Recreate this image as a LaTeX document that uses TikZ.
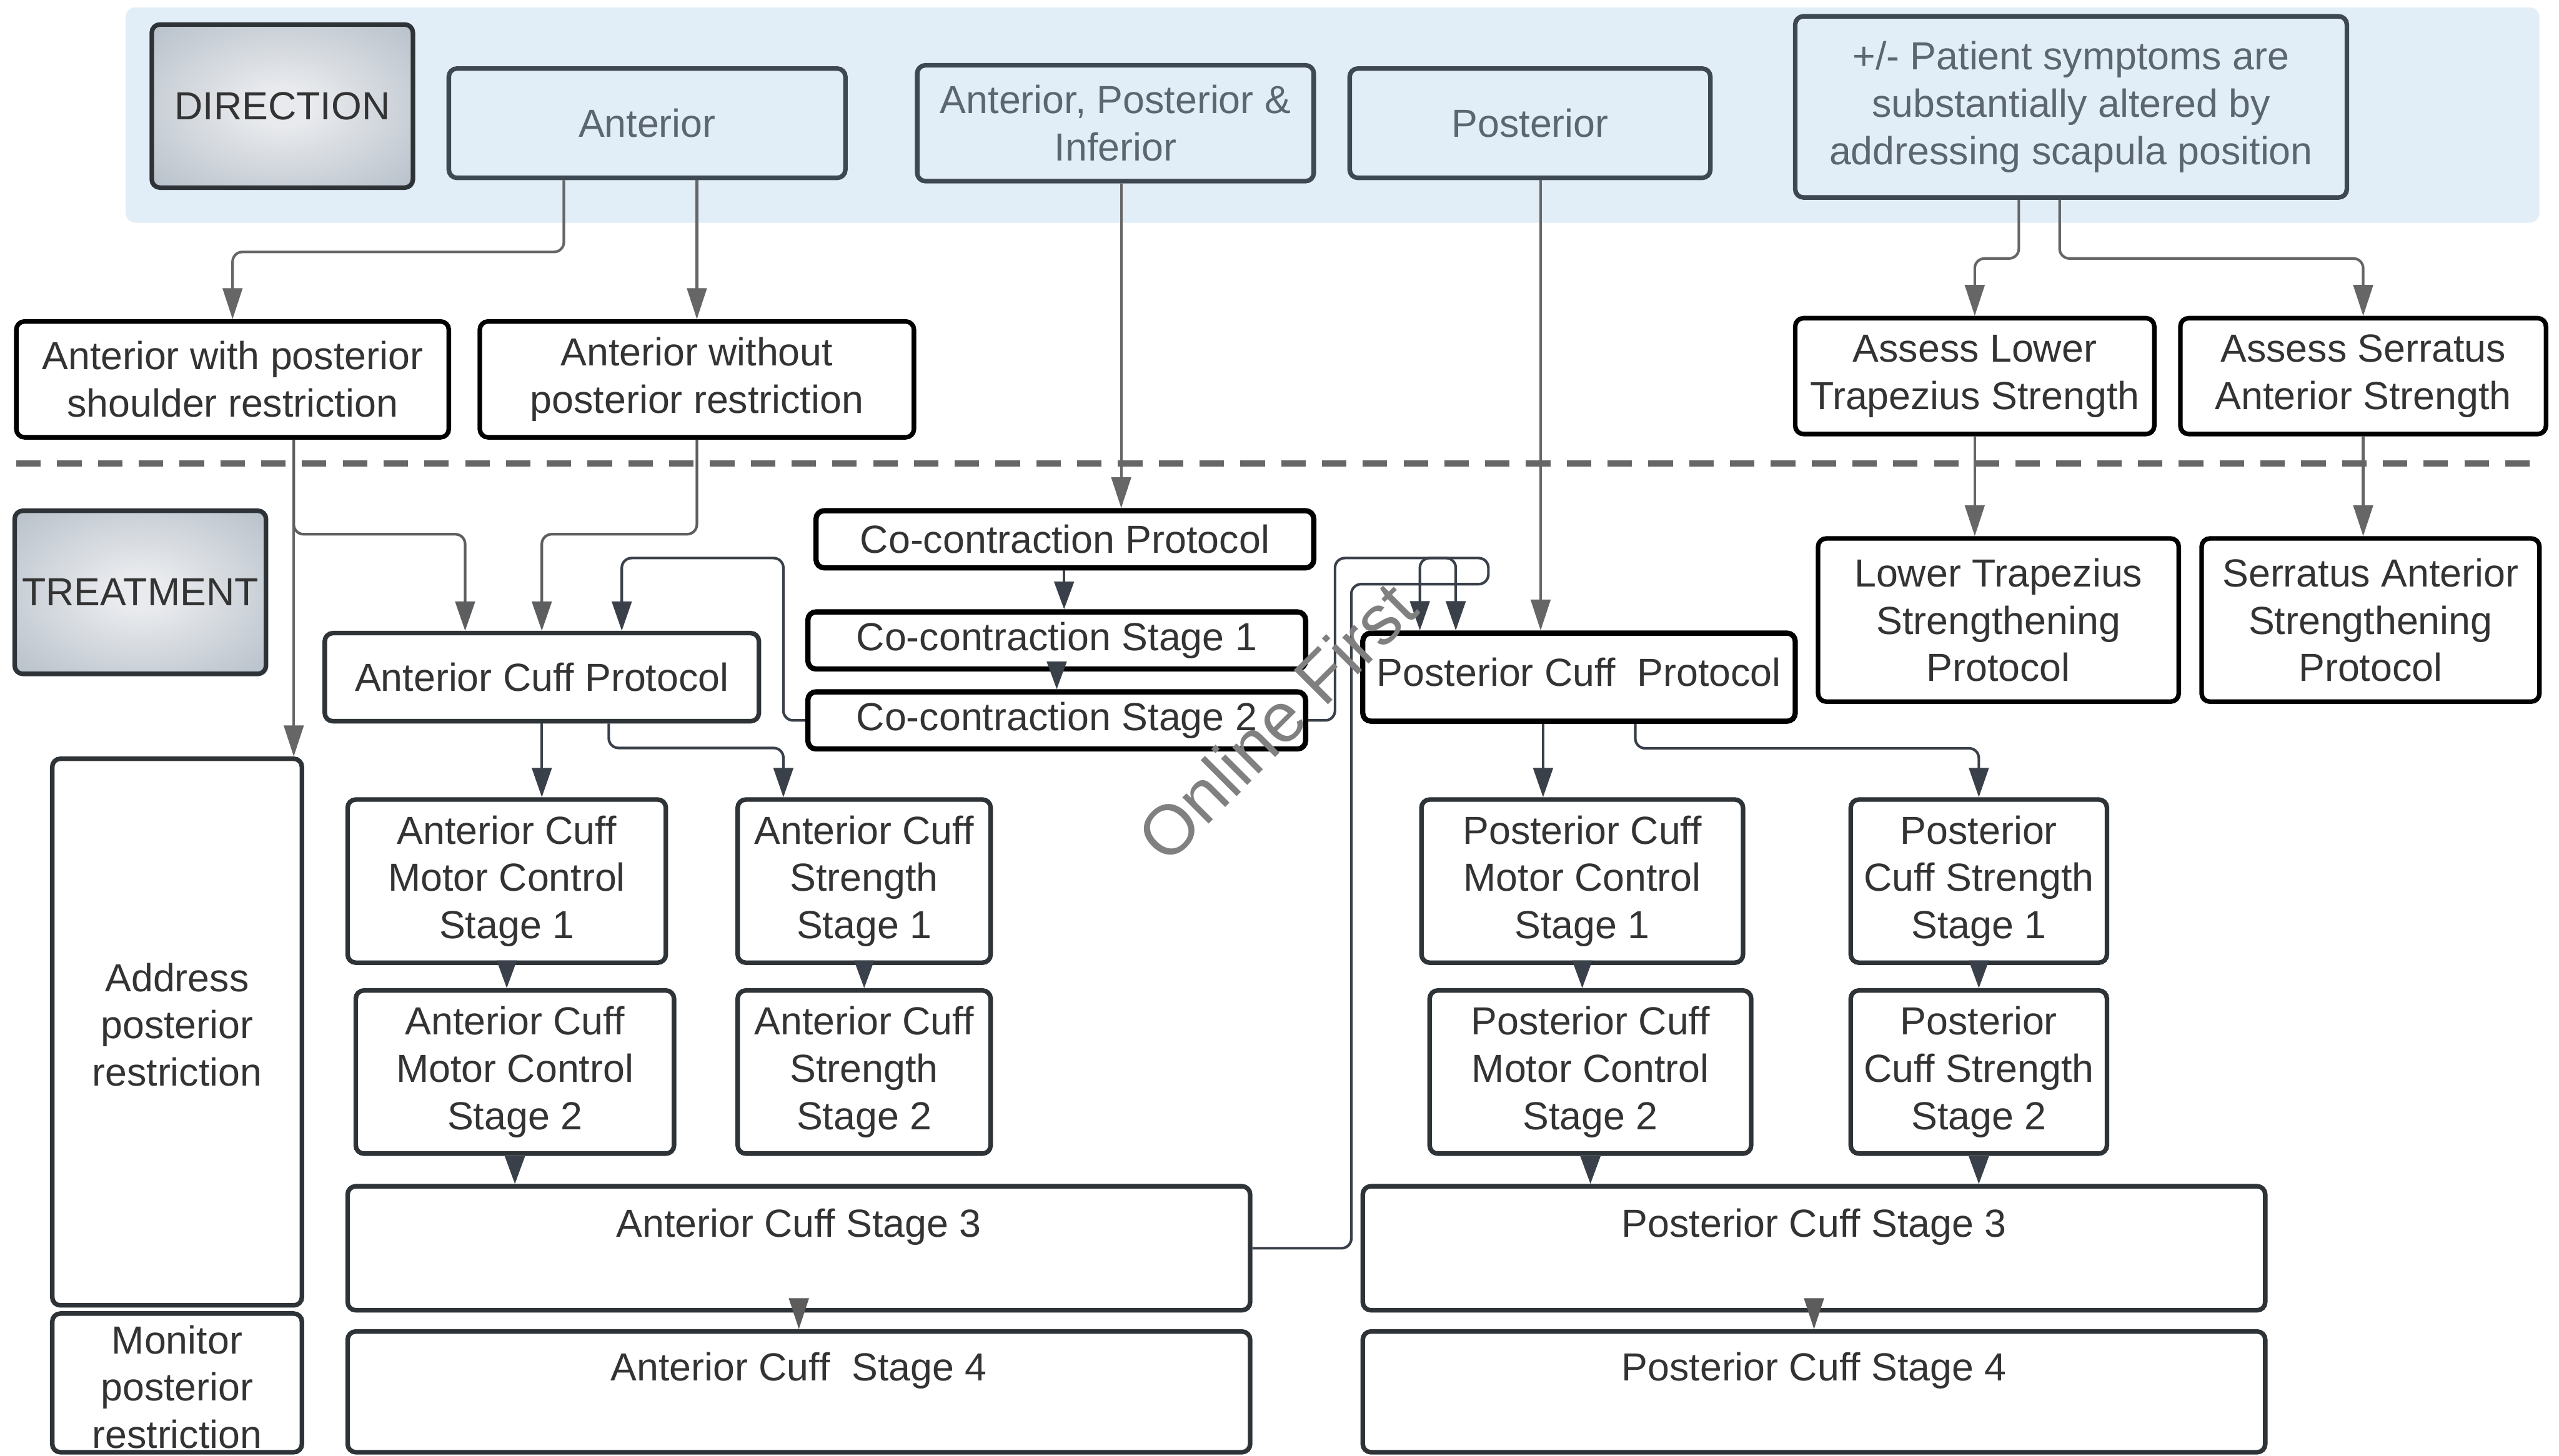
\documentclass[tikz,border=0pt]{standalone}
\usepackage{fontspec}
\setmainfont{Liberation Sans}
\usetikzlibrary{arrows.meta,calc}
\definecolor{bandc}{HTML}{E2EEF7}
\definecolor{tb}{HTML}{3E4852}
\definecolor{tt}{HTML}{5B6670}
\definecolor{dk}{HTML}{2E3338}
\definecolor{txtc}{HTML}{333333}
\definecolor{gl}{HTML}{666666}
\definecolor{dl}{HTML}{3A4049}
\definecolor{gin}{HTML}{E8EAED}
\definecolor{gout}{HTML}{A6B1BD}
\definecolor{wmc}{HTML}{808080}
\pgfdeclareradialshading{softrad}{\pgfpoint{0bp}{0bp}}{color(0bp)=(gin); color(6bp)=(gin); color(46bp)=(gout); color(50bp)=(gout)}
\begin{document}
\begin{tikzpicture}[x=1pt,y=-1pt,
  sz/.style 2 args={minimum width=#1pt,minimum height=#2pt},
  box/.style={draw, rounded corners=5pt, line width=2.8pt, align=center, inner sep=0pt,
    font=\fontsize{24}{29}\selectfont, text=txtc, fill=white},
  topbox/.style={box, draw=tb, fill=bandc, text=tt},
  blk/.style={box, draw=black},
  lbox/.style={box, draw=dk},
  gradbox/.style={box, draw=dk, shading=softrad},
  lbl/.style={inner sep=0pt, align=center, font=\fontsize{24}{29}\selectfont, text=txtc},
  garr/.style={draw=gl, line width=1.6pt, rounded corners=6pt, -{Triangle[length=19pt,width=12pt]}},
  darr/.style={draw=dl, line width=1.6pt, rounded corners=6pt, -{Triangle[length=18pt,width=12pt]}},
  sarr/.style={draw=dl, line width=1.6pt, -{Triangle[length=17pt,width=12pt]}},
  sgarr/.style={draw=gl!90!black, line width=1.6pt, -{Triangle[length=19pt,width=12pt]}}
]
\useasboundingbox (0,0) rectangle (1568,892);
\fill[white] (0,0) rectangle (1568,892);

% band
\node[fill=bandc, rounded corners=6pt, inner sep=0pt, sz={1479}{132}] (bandbg) at (816.5,70.5) {};

% top row
\node[gradbox, sz={160}{100}] (dir) at (173,65) {DIRECTION};
\node[topbox, sz={243}{67}] (ant) at (396.5,75.5) {Anterior};
\node[topbox, sz={243}{71}] (api) at (683.5,75.5) {Anterior, Posterior \&\\Inferior};
\node[topbox, sz={221}{67}] (post) at (937.5,75.5) {Posterior};
\node[topbox, sz={338}{111}] (pat) at (1269,65.5) {+/- Patient symptoms are\\substantially altered by\\addressing scapula position};

% second row
\node[blk, sz={265}{71}] (awp) at (142.5,232.5) {Anterior with posterior\\shoulder restriction};
\node[blk, sz={266}{71}] (awop) at (427,232.5) {Anterior without\\posterior restriction};
\node[blk, sz={220}{71}] (alt) at (1210,230.5) {Assess Lower\\Trapezius Strength};
\node[blk, sz={224}{71}] (asa) at (1448,230.5) {Assess Serratus\\Anterior Strength};

% divider
\draw[gl, line width=3.6pt, dash pattern=on 15pt off 10pt] (10,284) -- (1556,284);

% treatment
\node[gradbox, sz={154}{100}] (treat) at (86,363) {TREATMENT};
\node[blk, line width=3.2pt, sz={305}{35}] (ccp) at (652.5,330.5) {Co-contraction Protocol};
\node[blk, line width=3.2pt, sz={305}{35}] (cs1) at (647.5,392.5) {Co-contraction Stage 1};
\node[blk, line width=3.2pt, sz={305}{35}] (cs2) at (647.5,441.5) {Co-contraction Stage 2};
\node[lbox, sz={266}{54}] (acp) at (332,415) {Anterior Cuff Protocol};
\node[blk, line width=3.2pt, sz={265}{54}] (pcp) at (967.5,415) {};
\node[lbl] (pcpt) at (967.5,412) {Posterior Cuff\ \ Protocol};
\node[blk, sz={221}{100}] (ltsp) at (1224.5,380) {Lower Trapezius\\Strengthening\\Protocol};
\node[blk, sz={207}{100}] (sasp) at (1452.5,380) {Serratus Anterior\\Strengthening\\Protocol};

\node[lbox, sz={153}{335}] (addr) at (108.5,632.5) {};
\node[lbl] (addrt) at (108.5,628) {Address\\posterior\\restriction};
\node[lbox, sz={153}{85}] (mon) at (108.5,847.5) {};
\node[lbl] (mont) at (108.5,850) {Monitor\\posterior\\restriction};

\node[lbox, sz={195}{100}] (acmc1) at (310.5,540) {Anterior Cuff\\Motor Control\\Stage 1};
\node[lbox, sz={155}{100}] (acs1) at (529.5,540) {Anterior Cuff\\Strength\\Stage 1};
\node[lbox, sz={195}{100}] (acmc2) at (315.5,657) {Anterior Cuff\\Motor Control\\Stage 2};
\node[lbox, sz={155}{100}] (acs2) at (529.5,657) {Anterior Cuff\\Strength\\Stage 2};
\node[lbox, sz={553}{76}] (acs3) at (489.5,765) {};
\node[lbl] (acs3t) at (489.5,752) {Anterior Cuff Stage 3};
\node[lbox, sz={553}{74}] (acs4) at (489.5,853) {};
\node[lbl] (acs4t) at (489.5,840) {Anterior Cuff\ \ Stage 4};

\node[lbox, sz={197}{100}] (pcmc1) at (969.5,540) {Posterior Cuff\\Motor Control\\Stage 1};
\node[lbox, sz={157}{100}] (pcs1) at (1212.5,540) {Posterior\\Cuff Strength\\Stage 1};
\node[lbox, sz={197}{100}] (pcmc2) at (974.5,657) {Posterior Cuff\\Motor Control\\Stage 2};
\node[lbox, sz={157}{100}] (pcs2) at (1212.5,657) {Posterior\\Cuff Strength\\Stage 2};
\node[lbox, sz={553}{76}] (pcs3) at (1111.5,765) {};
\node[lbl] (pcs3t) at (1111.5,752) {Posterior Cuff Stage 3};
\node[lbox, sz={553}{74}] (pcs4) at (1111.5,853) {};
\node[lbl] (pcs4t) at (1111.5,840) {Posterior Cuff Stage 4};

% connectors: direction level
\draw[garr] ([xshift=-51pt]ant.south) -- ++(0,44) -| (awp.north);
\draw[garr] (ant.south -| awop.north) -- (awop.north);
\draw[garr] ([xshift=-32pt]pat.south) -- ++(0,36) -| (alt.north);
\draw[garr] ([xshift=-7pt]pat.south) -- ++(0,36) -| (asa.north);
\draw[garr] ([xshift=3.5pt]api.south) -- ([xshift=3.5pt]api.south |- ccp.north);
\draw[garr] ([xshift=6.5pt]post.south) -- ([xshift=6.5pt]post.south |- pcp.north);
\draw[garr] (alt.south) -- (alt.south |- ltsp.north);
\draw[garr] (asa.south) -- (asa.south |- sasp.north);
\draw[garr] ([xshift=37.5pt]awp.south) -- ([xshift=37.5pt]awp.south |- addr.north);
\draw[darr, draw=gl!80!dl] ([xshift=37.5pt]awp.south) -- ++(0,58) -| ([xshift=-47pt]acp.north);
\draw[darr, draw=gl!80!dl] (awop.south) -- ++(0,58) -| (acp.north);

% co-contraction
\draw[sarr] (ccp.south -| cs1.north) ++(4.5,0) -- ([xshift=4.5pt]cs1.north);
\draw[sarr] (cs1.south) -- (cs2.north);
\draw[darr] (cs2.west) -| (480,342) -| ([xshift=49pt]acp.north);
\draw[darr] (cs2.east) -| (818,342) -| ([xshift=-75.5pt]pcp.north);
\draw[darr] (acs3.east) -| (828,358) -- (912,358) -- (912,342) -| ([xshift=-97.5pt]pcp.north);

% protocols to stages
\draw[darr] (acp.south) -- (acp.south |- acmc1.north);
\draw[darr] ([xshift=41pt]acp.south) -- ++(0,15) -| ([xshift=-49.5pt]acs1.north);
\draw[darr] ([xshift=-22pt]pcp.south) -- ([xshift=-22pt]pcp.south |- pcmc1.north);
\draw[darr] ([xshift=34.5pt]pcp.south) -- ++(0,15) -| (pcs1.north);

\draw[sarr] (acmc1.south) -- (acmc1.south |- acmc2.north);
\draw[sarr] (acs1.south) -- (acs2.north);
\draw[sarr] (acmc2.south) -- (acmc2.south |- acs3.north);
\draw[sarr] (pcmc1.south) -- (pcmc1.south |- pcmc2.north);
\draw[sarr] (pcs1.south) -- (pcs2.north);
\draw[sarr] (pcmc2.south) -- (pcmc2.south |- pcs3.north);
\draw[sarr] (pcs2.south) -- (pcs2.south |- pcs3.north);
\draw[sgarr] (acs3.south) -- (acs4.north);
\draw[sgarr] (pcs3.south) -- (pcs4.north);

% watermark
\node[rotate=45, text=wmc, inner sep=0pt, font=\fontsize{43}{43}\selectfont] (wm) at (782,442) {Online First};
\end{tikzpicture}
\end{document}
